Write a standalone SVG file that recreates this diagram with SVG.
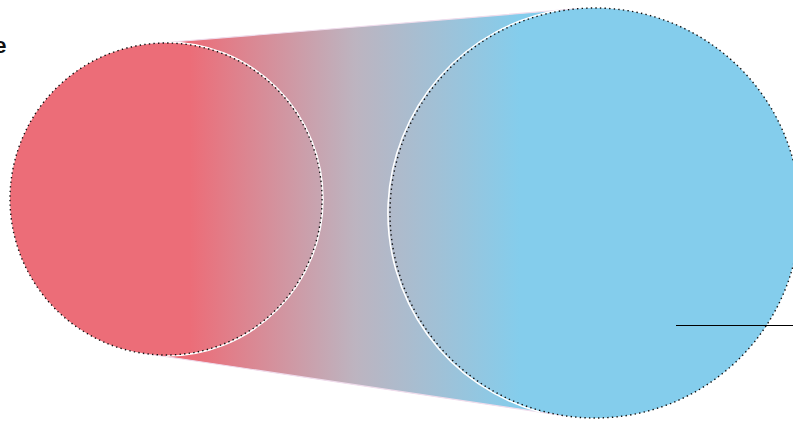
<svg xmlns="http://www.w3.org/2000/svg" width="793" height="423" viewBox="0 0 793 423">
<defs>
<linearGradient id="g" gradientUnits="userSpaceOnUse" x1="190" y1="0" x2="520" y2="0">
<stop offset="0" stop-color="#ec6d78"/>
<stop offset="0.5" stop-color="#bdb4c0"/>
<stop offset="1" stop-color="#84cdec"/>
</linearGradient>
<style>
.fill{fill:url(#g);}
.dot{fill:none;stroke:#111;stroke-width:1.4;stroke-dasharray:1.4 3.2;}
.hl{fill:none;stroke:#ffffff;stroke-width:1.6;}
.edge{stroke:#efdcec;stroke-width:1.2;}
.lbl{font-family:"Liberation Sans",Arial,sans-serif;font-weight:bold;font-size:22px;fill:#111;}
</style>
</defs>
<rect width="793" height="423" fill="#ffffff"/>
<g id="band">
<polygon class="fill edge" points="153.3,43.5 578.3,8.7 565,415.8 143.2,353.3"/>
</g>
<g id="node-left">
<circle class="fill" cx="166" cy="199" r="156"/>
<path class="hl" d="M166,42 A157,157 0 0 1 166,356"/>
<circle class="dot" cx="166" cy="199" r="156"/>
</g>
<g id="node-right">
<circle class="fill" cx="595" cy="213" r="205"/>
<path class="hl" d="M560,10 A206,206 0 0 0 540,412"/>
<circle class="dot" cx="595" cy="213" r="205"/>
</g>
<g id="connectors">
<line x1="676" y1="325.5" x2="793" y2="325.5" stroke="#000" stroke-width="1"/>
</g>
<text class="lbl" x="6.5" y="53" text-anchor="end">e</text>
</svg>
